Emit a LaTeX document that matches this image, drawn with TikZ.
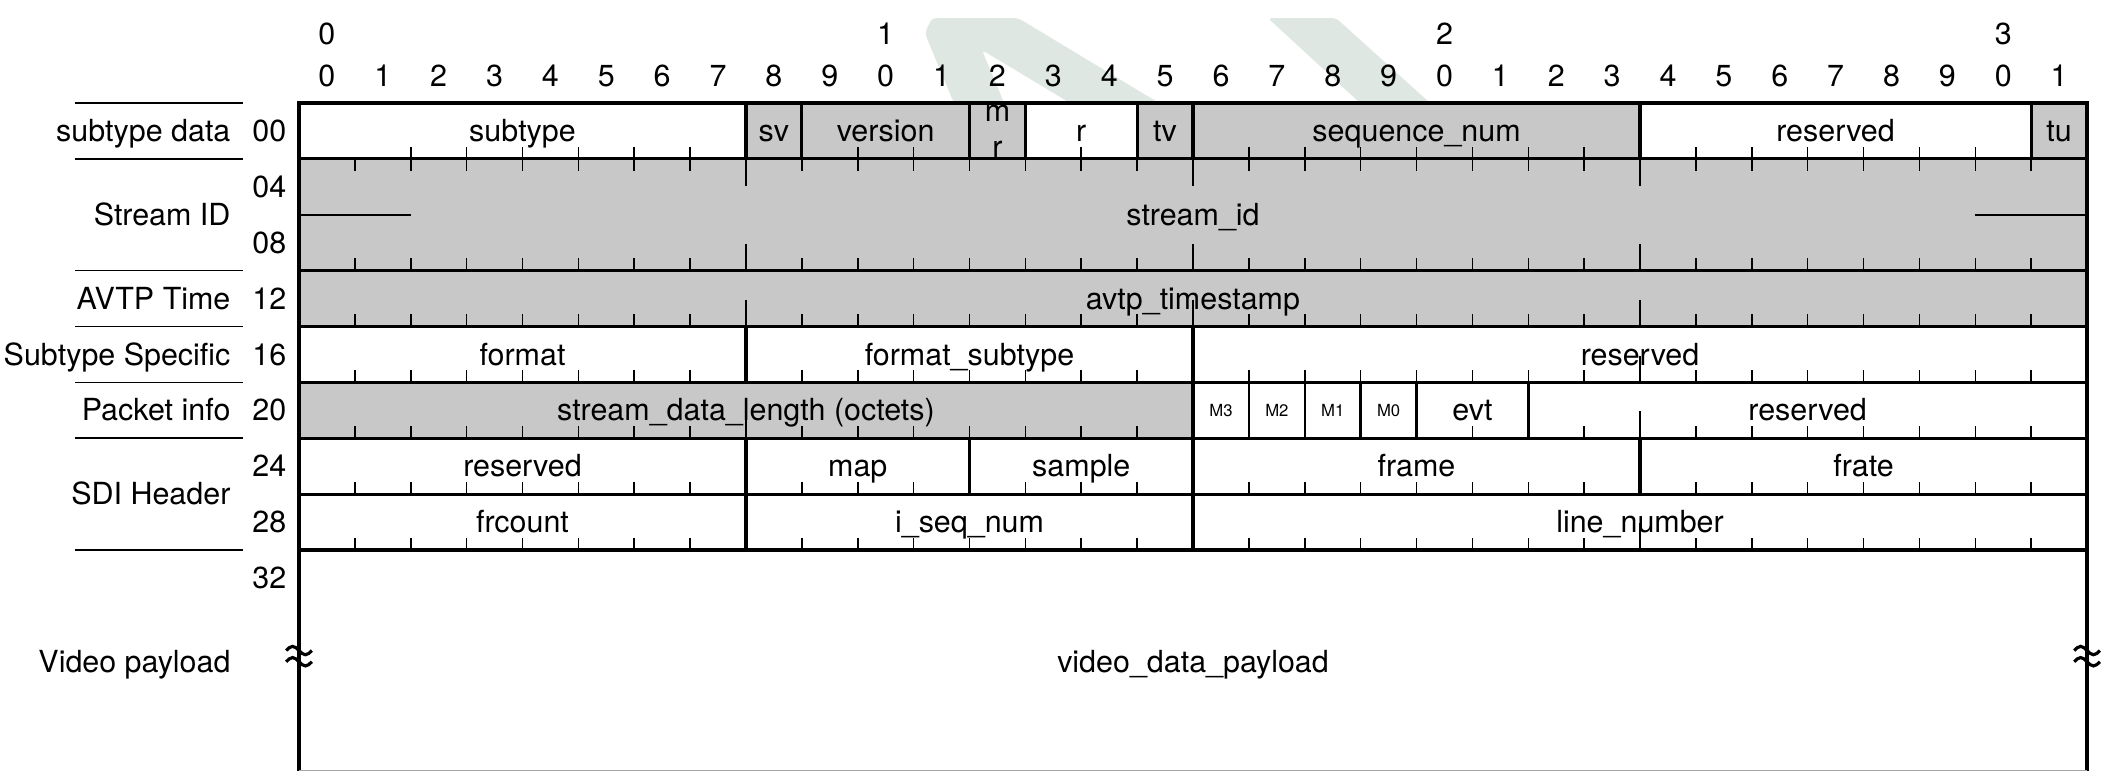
\documentclass[tikz,border=0pt]{standalone}
\usepackage{fontspec}
\setmainfont{TeX Gyre Heros}
\usetikzlibrary{calc}
\definecolor{cellgray}{RGB}{200,200,200}
\definecolor{watermark}{RGB}{222,231,226}
\tikzset{
  wire/.style={line width=1.6pt},
  hair/.style={line width=0.8pt},
  thinwall/.style={line width=1.3pt},
  squiggle/.style={line width=1.6pt},
  txt/.style={anchor=base, inner sep=0pt, font=\fontsize{15.5}{18}\selectfont},
  tinytxt/.style={anchor=base, inner sep=0pt, font=\fontsize{8.5}{10}\selectfont},
  side/.style={anchor=base east, inner sep=0pt, font=\fontsize{15.5}{18}\selectfont},
}
% tick marks rising from a row bottom (#1) at bit boundaries #2..#3
\newcommand\pktup[3]{%
  \foreach \k in {#2,...,#3}{%
    \pgfmathsetmacro\tlen{ifthenelse(mod(\k,8)==0,0.48,0.22)}%
    \draw[hair] (\k,#1) -- ++(0,\tlen);}}
% tick marks hanging from a row top (#1)
\newcommand\pktdown[3]{%
  \foreach \k in {#2,...,#3}{%
    \pgfmathsetmacro\tlen{ifthenelse(mod(\k,8)==0,0.48,0.22)}%
    \draw[hair] (\k,#1) -- ++(0,-\tlen);}}
% field: name, first bit, end bit, top row, rows, fill, label
\newcommand\pktcell[7]{%
  \fill[#6] (#2,-#4) rectangle (#3,{-#4-#5});
  \node[txt] (#1) at ({(#2+#3)/2},{-#4-#5/2-0.19}) {#7};}
% break mark (two tildes) centred on coordinate #1
\newcommand\pktbreak[1]{%
  \draw[squiggle] ($(#1)+(-0.23,0.1)$) sin ++(0.115,0.075) cos ++(0.115,-0.075)
     sin ++(0.115,-0.075) cos ++(0.115,0.075);
  \draw[squiggle] ($(#1)+(-0.23,-0.1)$) sin ++(0.115,0.075) cos ++(0.115,-0.075)
     sin ++(0.115,-0.075) cos ++(0.115,0.075);}

\begin{document}
\begin{tikzpicture}
\useasboundingbox (-5.351,-11.955) rectangle (32.25,1.843);
\fill[white] (-5.351,-11.955) rectangle (32.25,1.843);

% faint logo behind the header
\fill[watermark, rounded corners=2pt] (11.72,0) -- (11.20,1.25) -- (11.33,1.52) -- (12.87,1.52)
  -- (15.39,0) -- (13.80,0) -- (12.22,0.95) -- (12.62,0) -- cycle;
\fill[watermark, rounded corners=2pt] (17.34,1.52) -- (18.56,1.52) -- (20.24,0) -- (18.99,0) -- cycle;

% bit numbering
\foreach \i in {0,...,31}{
  \pgfmathtruncatemacro\d{mod(\i,10)}
  \node[txt] (bit\i) at (\i+0.5,0.29) {\d};
}
\foreach \t in {0,1,2,3}{
  \node[txt] (dec\t) at (\t*10+0.5,1.04) {\t};
}

% word 00
\pktcell{subtype}{0}{8}{0}{1}{white}{subtype}
\pktcell{sv}{8}{9}{0}{1}{cellgray}{sv}
\pktcell{version}{9}{12}{0}{1}{cellgray}{version}
\fill[cellgray] (12,0) rectangle (13,-1);
\node[txt] (mrm) at (12.5,-0.34) {m};
\node[txt] (mrr) at (12.5,-0.97) {r};
\pktcell{rsv}{13}{15}{0}{1}{white}{r}
\pktcell{tv}{15}{16}{0}{1}{cellgray}{tv}
\pktcell{seqnum}{16}{24}{0}{1}{cellgray}{sequence\_num}
\pktcell{res0}{24}{31}{0}{1}{white}{reserved}
\pktcell{tu}{31}{32}{0}{1}{cellgray}{tu}

% words 04-08
\pktcell{streamid}{0}{32}{1}{2}{cellgray}{stream\_id}
% word 12
\pktcell{avtpts}{0}{32}{3}{1}{cellgray}{avtp\_timestamp}
% word 16
\pktcell{format}{0}{8}{4}{1}{white}{format}
\pktcell{fsub}{8}{16}{4}{1}{white}{format\_subtype}
\pktcell{res16}{16}{32}{4}{1}{white}{reserved}
% word 20
\pktcell{sdlen}{0}{16}{5}{1}{cellgray}{stream\_data\_length (octets)}
\fill[white] (16,-5) rectangle (20,-6);
\node[tinytxt] (mthree) at (16.5,-5.61) {M3};
\node[tinytxt] (mtwo) at (17.5,-5.61) {M2};
\node[tinytxt] (mone) at (18.5,-5.61) {M1};
\node[tinytxt] (mzero) at (19.5,-5.61) {M0};
\pktcell{evt}{20}{22}{5}{1}{white}{evt}
\pktcell{res20}{22}{32}{5}{1}{white}{reserved}
% word 24
\pktcell{res24}{0}{8}{6}{1}{white}{reserved}
\pktcell{map}{8}{12}{6}{1}{white}{map}
\pktcell{sample}{12}{16}{6}{1}{white}{sample}
\pktcell{frame}{16}{24}{6}{1}{white}{frame}
\pktcell{frate}{24}{32}{6}{1}{white}{frate}
% word 28
\pktcell{frcount}{0}{8}{7}{1}{white}{frcount}
\pktcell{iseq}{8}{16}{7}{1}{white}{i\_seq\_num}
\pktcell{linenum}{16}{32}{7}{1}{white}{line\_number}
% payload
\node[txt] (payload) at (16,-10.19) {video\_data\_payload};

% ticks
\pktup{-1}{2}{7} \pktup{-1}{10}{11} \pktup{-1}{14}{14}
\pktup{-1}{17}{23} \pktup{-1}{25}{30}
\pktdown{-1}{1}{31}
\pktup{-3}{1}{31}
\pktup{-4}{1}{31}
\pktup{-5}{1}{7} \pktup{-5}{9}{15} \pktup{-5}{17}{31}
\pktup{-6}{1}{15} \pktup{-6}{21}{21} \pktup{-6}{23}{31}
\pktup{-7}{1}{7} \pktup{-7}{9}{11} \pktup{-7}{13}{15}
\pktup{-7}{17}{23} \pktup{-7}{25}{31}
\pktup{-8}{1}{7} \pktup{-8}{9}{15} \pktup{-8}{17}{31}

% stream_id word split marks
\draw[hair] (0,-2) -- (2,-2);
\draw[hair] (30,-2) -- (32,-2);

% field walls
\foreach \x in {8,9,12,13,15,16,24,31} \draw[wire] (\x,0) -- (\x,-1);
\foreach \x in {8,16} \draw[wire] (\x,-4) -- (\x,-5);
\foreach \x in {16,22} \draw[wire] (\x,-5) -- (\x,-6);
\foreach \x in {17,18,19,20} \draw[thinwall] (\x,-5) -- (\x,-6);
\foreach \x in {8,12,16,24} \draw[wire] (\x,-6) -- (\x,-7);
\foreach \x in {8,16} \draw[wire] (\x,-7) -- (\x,-8);

% word rules and frame
\foreach \y in {1,3,4,5,6,7,8} \draw[wire] (0,-\y) -- (32,-\y);
\draw[wire] (0,-12.2) -- (0,0) -- (32,0) -- (32,-12.2);
\draw[line width=0.5pt, black!35] (0,-11.955) -- (32,-11.955);

% continuation marks on both walls
\coordinate (brkl) at (0,-9.9);
\coordinate (brkr) at (32,-9.9);
\pktbreak{brkl}
\pktbreak{brkr}

% section labels
\foreach \y in {0,1,3,4,5,6,8} \draw[hair] (-4,-\y) -- (-1,-\y);
\node[side] (lblsub) at (-1.22,-0.69) {subtype data};
\node[side] (lblsid) at (-1.22,-2.19) {Stream ID};
\node[side] (lblavtp) at (-1.22,-3.69) {AVTP Time};
\node[side] (lblspec) at (-1.22,-4.69) {Subtype Specific};
\node[side] (lblpkt) at (-1.22,-5.69) {Packet info};
\node[side] (lblsdi) at (-1.22,-7.19) {SDI Header};
\node[side] (lblvid) at (-1.22,-10.19) {Video payload};

% byte offsets
\foreach \o/\r in {00/0,04/1,08/2,12/3,16/4,20/5,24/6,28/7,32/8}
  \node[side] (off\o) at (-0.22,-\r-0.69) {\o};
\end{tikzpicture}
\end{document}
